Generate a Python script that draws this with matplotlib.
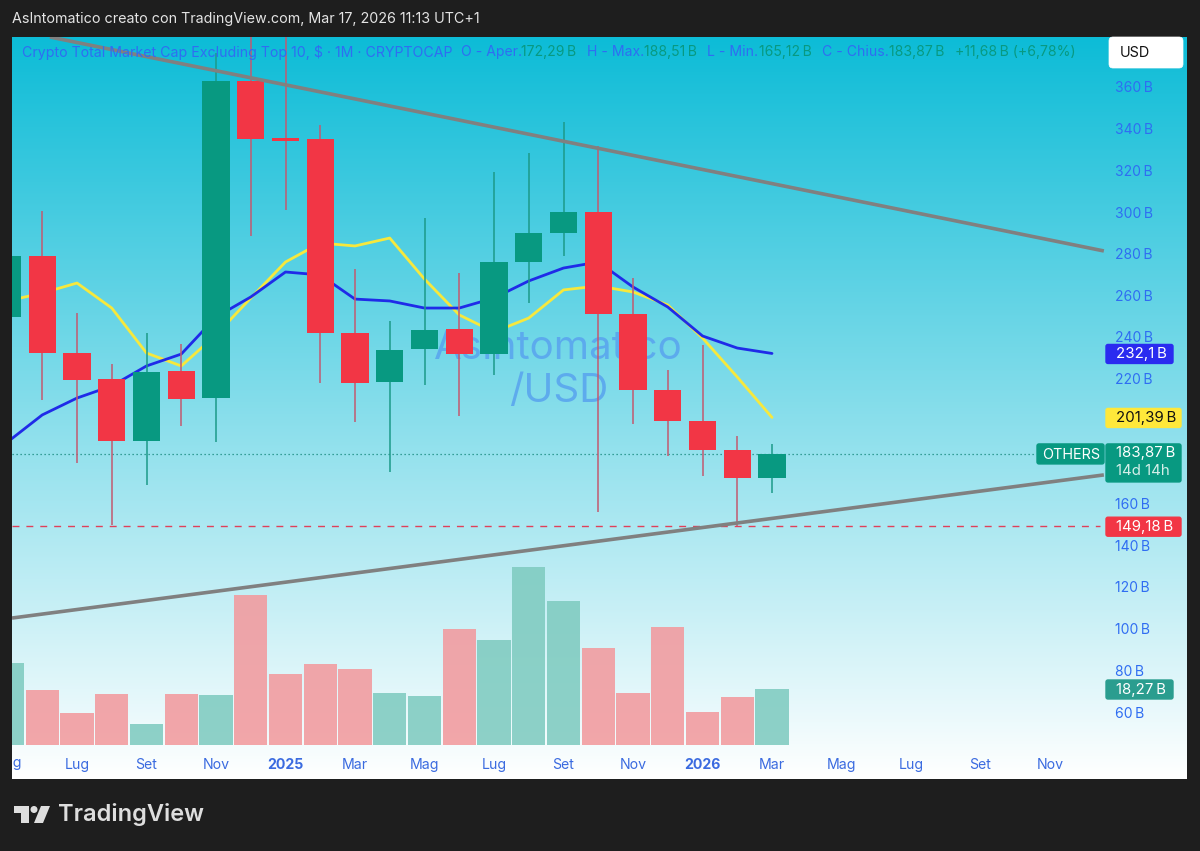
import numpy as np
import matplotlib
matplotlib.use("Agg")
import matplotlib.pyplot as plt
from matplotlib.patches import FancyBboxPatch, Rectangle, Polygon, Circle

plt.rcParams['font.family'] = ['Inter', 'DejaVu Sans']

# monthly candles, May 2024 to Mar 2026, values in billions
opens = [249.6, 278.9, 232.3, 219.8, 190.1, 223.7, 210.7, 362.9, 335.5, 335.0, 241.9, 218.4, 234.2, 243.8,
         232.0, 276.0, 289.9, 300.0, 251.0, 214.6, 199.7, 185.8, 172.19]
highs = [285.0, 300.5, 251.5, 227.0, 241.9, 236.6, 376.3, 400.0, 400.0, 341.8, 272.6, 247.7, 297.1, 270.7,
         319.2, 328.3, 343.2, 331.7, 268.3, 224.2, 236.2, 192.5, 188.51]
lows = [240.0, 209.8, 179.5, 149.8, 169.0, 197.3, 189.6, 288.5, 301.0, 217.9, 199.2, 175.2, 217.0, 202.1,
        221.8, 256.3, 278.9, 156.0, 198.2, 182.9, 173.3, 149.18, 165.12]
closes = [278.9, 232.3, 219.4, 190.1, 223.2, 210.2, 362.9, 335.0, 334.1, 241.9, 217.9, 233.8, 243.4, 231.8,
          276.0, 289.9, 300.0, 251.0, 214.6, 199.7, 185.8, 172.19, 183.87]
volumes = [26.7, 17.9, 10.4, 16.6, 6.8, 16.6, 16.3, 48.9, 23.1, 26.4, 24.8, 17.0, 16.0, 37.8,
           34.2, 58.0, 46.9, 31.6, 17.0, 38.5, 10.8, 15.6, 18.27]
ma_yellow = [257.3, 261.1, 265.9, 253.9, 232.3, 226.1, 241.0, 258.7, 276.0, 285.1, 283.7, 287.5, 267.8, 250.6,
             242.4, 249.1, 262.6, 264.5, 261.6, 255.4, 239.5, 220.8, 201.39]
ma_blue = [189.6, 202.6, 210.7, 216.5, 226.1, 231.8, 249.6, 259.2, 271.2, 269.8, 258.2, 257.3, 253.9, 253.9,
           258.7, 266.9, 273.1, 276.0, 264.0, 254.4, 240.5, 234.7, 232.1]
months = np.arange(-2, 21)
trend_upper_x = [-0.78, 29.55]
trend_upper_y = [384.0, 281.3]
trend_lower_x = [-1.87, 29.55]
trend_lower_y = [105.1, 173.8]
price_ticks = [360, 340, 320, 300, 280, 260, 240, 220, 160, 140, 120, 100, 80, 60]
time_ticks = [0, 2, 4, 6, 8, 10, 12, 14, 16, 18, 20, 22, 24, 26, 28]
time_labels = ['Lug', 'Set', 'Nov', '2025', 'Mar', 'Mag', 'Lug', 'Set', 'Nov', '2026', 'Mar', 'Mag', 'Lug', 'Set', 'Nov']
last_close = 183.87
prev_low = 149.18

W, H = 1200, 851
L, R, T, B = 12, 1187, 37, 779
DARK = '#1e1e1e'
RED, GREEN = '#f23645', '#089981'
BLUE = '#2f6df2'

fig = plt.figure(figsize=(12, 8.51), dpi=100, facecolor=DARK)
ax = fig.add_axes([L / W, 1 - B / H, (R - L) / W, (B - T) / H])
ax.set_xlim((L - 77) / 34.75, (R - 77) / 34.75)
ax.set_ylim(27.84, 384.0)

# background gradient
top_c = np.array([13, 188, 215]) / 255
bot_c = np.array([1, 1, 1.0])
t = np.linspace(0, 1, 256)[:, None, None]
grad = top_c[None, None, :] * (1 - t) + bot_c[None, None, :] * t

# watermark
ax.text(13.85, 234.7, 'AsIntomatico', fontsize=29, color='#5aa6ee', alpha=0.9, ha='center', va='center', zorder=1)
ax.text(13.85, 214.0, '/USD', fontsize=29, color='#5aa6ee', alpha=0.9, ha='center', va='center', zorder=1)

# reference lines
ax.plot([ax.get_xlim()[0], (1036 - 77) / 34.75], [last_close] * 2, color='#15897c', lw=0.9, ls=(0, (1, 2.2)), zorder=2)
ax.plot([ax.get_xlim()[0], (1100 - 77) / 34.75], [prev_low] * 2, color='#e0405a', lw=1.0, ls=(0, (5, 5)), zorder=2)

# volume on its own overlaid scale
vax = ax.twinx()
vax.set_position(ax.get_position())
vax.axis('off')
vax.patch.set_visible(False)
vol_colors = ['#7fcbc0' if c >= o else '#f29a9e' for o, c in zip(opens, closes)]
vax.bar(months, volumes, width=0.95, color=vol_colors, alpha=0.88, linewidth=0, zorder=2)
ax.set_zorder(vax.get_zorder() + 1)
ax.patch.set_visible(False)
vax.imshow(grad, extent=[*ax.get_xlim(), -11.08, 230.8], aspect='auto', origin='upper', zorder=0)
vax.set_xlim(ax.get_xlim())
vax.set_ylim(-11.08, 230.8)

# moving averages
ax.plot(months, ma_yellow, color='#f7e83c', lw=2.0, zorder=3, solid_capstyle='round')
ax.plot(months, ma_blue, color='#1f2be8', lw=2.0, zorder=3, solid_capstyle='round')

# candles
o, h, l, c = map(np.array, (opens, highs, lows, closes))
up = c >= o
ax.vlines(months[up], l[up], h[up], color='#1c9a89', lw=1.1, zorder=4)
ax.vlines(months[~up], l[~up], h[~up], color='#c25a70', lw=1.1, zorder=4)
ax.bar(months[up], (c - o)[up], bottom=o[up], width=0.79, color=GREEN, linewidth=0, zorder=5)
ax.bar(months[~up], (o - c)[~up], bottom=c[~up], width=0.79, color=RED, linewidth=0, zorder=5)

# trend lines
ax.plot(trend_upper_x, trend_upper_y, color='#808080', lw=2.6, zorder=6, solid_capstyle='butt')
ax.plot(trend_lower_x, trend_lower_y, color='#808080', lw=2.6, zorder=6, solid_capstyle='butt')

# axes
for s in ax.spines.values():
    s.set_visible(False)
ax.yaxis.tick_right()
ax.set_yticks(price_ticks, [f'{v}\u2009B' for v in price_ticks])
ax.tick_params(axis='y', length=0, pad=-(R - 1115) * 0.72, labelsize=10, labelcolor=BLUE)
ax.set_xticks(time_ticks, time_labels)
ax.tick_params(axis='x', length=0, pad=-(B - 758) * 0.72, labelsize=10.2, labelcolor='#3b6be0')
for lab, txt in zip(ax.get_xticklabels(), time_labels):
    if txt.startswith('20'):
        lab.set_fontweight('bold')
ax.text(-2, 27.84 + (B - 763) * 0.48, 'Mag', fontsize=10.2, color='#3b6be0', ha='center', va='center', clip_on=True)

# full-figure overlay in pixel coordinates for the interface furniture
ov = fig.add_axes([0, 0, 1, 1], zorder=20)
ov.set_xlim(0, W)
ov.set_ylim(H, 0)
ov.axis('off')


def ypx(v):
    return 87 + (360 - v) / 0.48


def tag(v, text, bg, fg='white', x0=1105, x1=1182):
    yc = ypx(v)
    ov.add_patch(FancyBboxPatch((x0 + 1, yc - 9), x1 - x0 - 2, 19, boxstyle='round,pad=0,rounding_size=2',
                                fc=bg, ec=bg, lw=1.0))
    ov.text(1116, yc + 1, text, color=fg, fontsize=10.8, va='center', ha='left')


ov.text(12, 19, 'AsIntomatico creato con TradingView.com, Mar 17, 2026 11:13 UTC+1', color='#e4e4e4',
        fontsize=10.3, va='center', ha='left')

legend_parts = [
    (22, 'Crypto Total Market Cap Excluding Top 10, $ · 1M · CRYPTOCAP', BLUE),
    (461, 'O - Aper.', BLUE), (521, '172,29\u2009B', GREEN),
    (587, 'H - Max.', BLUE), (644, '188,51\u2009B', GREEN),
    (707, 'L - Min.', BLUE), (759, '165,12\u2009B', GREEN),
    (822, 'C - Chius.', BLUE), (889, '183,87\u2009B', GREEN),
    (955, '+11,68\u2009B (+6,78%)', GREEN),
]
for i, (x, s, col) in enumerate(legend_parts):
    ov.text(x, 52, s, color=col, fontsize=10.2 if i == 0 else 10.1, va='center', ha='left')

ov.add_patch(FancyBboxPatch((1110, 38), 72, 29, boxstyle='round,pad=1,rounding_size=4', fc='white', ec='white', lw=0.5))
ov.text(1120, 53, 'USD', color='#111111', fontsize=10.4, va='center', ha='left')

tag(ma_blue[-1], '232,1\u2009B', '#2a2bf0', x1=1174)
tag(ma_yellow[-1], '201,39\u2009B', '#ffe83a', fg='#111111')
tag(prev_low, '149,18\u2009B', RED)
# volume tag
ov.add_patch(FancyBboxPatch((1106, 680), 67, 19, boxstyle='round,pad=0,rounding_size=2', fc='#2a9d8f', ec='#2a9d8f', lw=1.0))
ov.text(1116, 690, '18,27\u2009B', color='white', fontsize=10.8, va='center', ha='left')

# last price tag
yl = ypx(last_close)
ov.add_patch(FancyBboxPatch((1106, yl - 10), 75, 38, boxstyle='round,pad=0,rounding_size=2', fc=GREEN, ec=GREEN, lw=1.0))
ov.add_patch(FancyBboxPatch((1037, yl - 10), 67, 20, boxstyle='round,pad=0,rounding_size=2', fc=GREEN, ec=GREEN, lw=1.0))
ov.text(1042, yl + 1, 'OTHERS', color='white', fontsize=10.4, va='center', ha='left')
ov.text(1116, yl - 1, '183,87\u2009B', color='white', fontsize=10.8, va='center', ha='left')
ov.text(1116, yl + 17, '14d 14h', color='#d5efe9', fontsize=10.8, va='center', ha='left')

# footer logo
LOGO = '#dedede'
ov.add_patch(Rectangle((14, 806), 15, 7, fc=LOGO, ec='none'))
ov.add_patch(Rectangle((21, 806), 8, 17, fc=LOGO, ec='none'))
ov.add_patch(Circle((34, 809.5), 3.5, fc=LOGO, ec='none'))
ov.add_patch(Polygon([(41, 806), (50, 806), (43, 823), (34, 823)], closed=True, fc=LOGO, ec='none'))
ov.text(58, 815, 'TradingView', color=LOGO, fontsize=17, fontweight='semibold', va='center', ha='left')

fig.savefig('out.png', dpi=100, facecolor=DARK)
